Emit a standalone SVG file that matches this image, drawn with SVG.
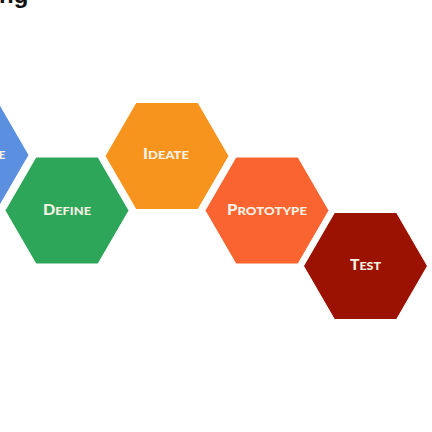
<svg xmlns="http://www.w3.org/2000/svg" width="432" height="432" viewBox="0 0 432 432">
  <defs>
    <polygon id="hex" points="-31,-53.5 31,-53.5 62,0 31,53.5 -31,53.5 -62,0"/>
    <style>
      .lbl { font-family: "Lato", "Liberation Sans", sans-serif; font-weight: 900; fill: #f7f1e3; text-anchor: middle; font-size: 11.5px; }
      .cap { font-size: 14.5px; }
      .hex { stroke: #ffffff; stroke-width: 1; }
    </style>
  </defs>
  <rect width="432" height="432" fill="#ffffff"/>
  <text x="-1" y="2.5" font-family="Liberation Sans, Arial, sans-serif" font-weight="700" font-size="24" fill="#111111">ng</text>
  <g id="empathize">
    <use href="#hex" class="hex" transform="translate(-33,155)" fill="#5b8fdf"/>
    <text class="lbl" x="2" y="159">E</text>
  </g>
  <g id="define">
    <use href="#hex" class="hex" transform="translate(67,210.5)" fill="#2ea65a"/>
    <text class="lbl" x="67" y="214.5" textLength="48" lengthAdjust="spacingAndGlyphs"><tspan class="cap">D</tspan>EFINE</text>
  </g>
  <g id="ideate">
    <use href="#hex" class="hex" transform="translate(167,156)" fill="#f7941d"/>
    <text class="lbl" x="166" y="159" textLength="46" lengthAdjust="spacingAndGlyphs"><tspan class="cap">I</tspan>DEATE</text>
  </g>
  <g id="prototype">
    <use href="#hex" class="hex" transform="translate(267,210.5)" fill="#fa6430"/>
    <text class="lbl" x="267" y="214.5" textLength="80" lengthAdjust="spacingAndGlyphs"><tspan class="cap">P</tspan>ROTOTYPE</text>
  </g>
  <g id="test">
    <use href="#hex" class="hex" transform="translate(365.5,266)" fill="#9b1200"/>
    <text class="lbl" x="365.5" y="270" textLength="31" lengthAdjust="spacingAndGlyphs"><tspan class="cap">T</tspan>EST</text>
  </g>
  <g id="connectors"/>
</svg>
